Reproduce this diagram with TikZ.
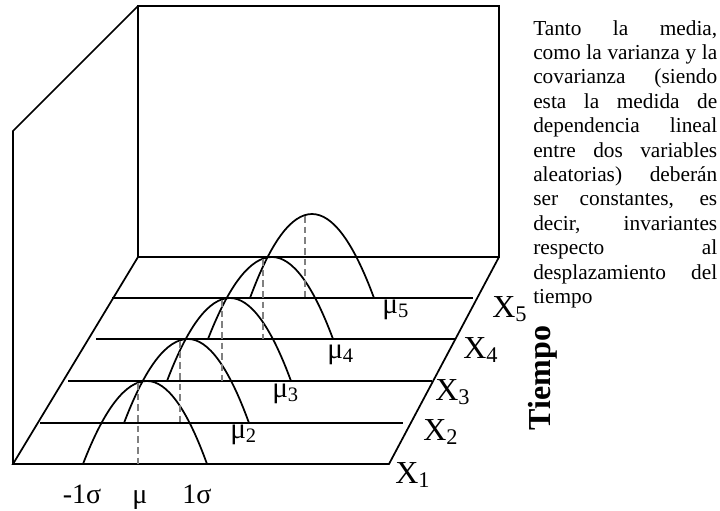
\documentclass[tikz,border=0pt]{standalone}
\usepackage{fontspec}
\setmainfont{Liberation Serif}
\begin{document}
\begin{tikzpicture}[x=0.75pt,y=-0.75pt,
    wall/.style={line width=1.3pt},
    meanline/.style={line width=1.1pt,gray,dash pattern=on 5pt off 3pt},
    xlbl/.style={anchor=base west,inner sep=0pt,font=\fontsize{24}{28}\selectfont},
    mulbl/.style={anchor=base west,inner sep=0pt,font=\fontsize{22}{26}\selectfont},
    siglbl/.style={anchor=base,inner sep=0pt,font=\fontsize{21}{25}\selectfont}]
    \useasboundingbox (0,0) rectangle (720,510);
    % back wall and side wall
    \draw[wall] (138,6) rectangle (499,257);
    \draw[wall] (13,464) -- (13,131) -- (138,6);
    % floor
    \draw[wall] (138,257) -- (13,464) -- (389,464) -- (499,257);
    % time lines
    \draw[wall] (40,423) -- (403,423);
    \draw[wall] (68,381) -- (432,381);
    \draw[wall] (96,339) -- (456,339);
    \draw[wall] (112,298) -- (473,298);
    % the five bells
    \draw[wall] (83,464) .. controls (104.3,408.7) and (125.7,381) .. (147,381)
                         .. controls (167,381) and (187,408.7) .. (207,464);
    \draw[wall] (124,423) .. controls (145.3,367) and (166.7,339) .. (188,339)
                          .. controls (208.3,339) and (228.7,367) .. (249,423);
    \draw[wall] (167,381) .. controls (188,325.7) and (209,298) .. (230,298)
                          .. controls (250.3,298) and (270.7,325.7) .. (291,381);
    \draw[wall] (208,339) .. controls (229.3,284.3) and (250.7,257) .. (272,257)
                          .. controls (292.3,257) and (312.7,284.3) .. (333,339);
    \draw[wall] (250,298) .. controls (270.7,242) and (291.3,214) .. (312,214)
                          .. controls (332.7,214) and (353.3,242) .. (374,298);
    % means
    \draw[meanline] (138,383) -- (138,464);
    \draw[meanline] (180,341) -- (180,423);
    \draw[meanline] (222,300) -- (222,381);
    \draw[meanline] (263,259) -- (263,339);
    \draw[meanline] (305,216) -- (305,298);
    % labels
    \node[siglbl] (s1) at (82,503) {-1σ};
    \node[siglbl] (mu) at (140,503) {μ};
    \node[siglbl] (s2) at (197,503) {1σ};
    \node[mulbl] (m2) at (230,438) {μ\textsubscript{2}};
    \node[mulbl] (m3) at (272,397) {μ\textsubscript{3}};
    \node[mulbl] (m4) at (327,358) {μ\textsubscript{4}};
    \node[mulbl] (m5) at (382,313) {μ\textsubscript{5}};
    \node[xlbl] (x1) at (395,483) {X\textsubscript{1}};
    \node[xlbl] (x2) at (423,440) {X\textsubscript{2}};
    \node[xlbl] (x3) at (435,400) {X\textsubscript{3}};
    \node[xlbl] (x4) at (463,358) {X\textsubscript{4}};
    \node[xlbl] (x5) at (492,317) {X\textsubscript{5}};
    \node[rotate=90,anchor=base,inner sep=0pt,font=\bfseries\fontsize{24}{28}\selectfont] (tiempo) at (550,378) {Tiempo};
    \node[anchor=north west,inner sep=0pt,text width=138pt,align=justify,font=\fontsize{16}{18.3}\selectfont] (note) at (533,20)
      {Tanto la media,\linebreak como la varianza y la\linebreak covarianza (siendo\linebreak esta la medida de\linebreak
       dependencia lineal\linebreak entre dos variables\linebreak aleatorias) deberán\linebreak ser constantes, es\linebreak
       decir, invariantes\linebreak respecto al\linebreak desplazamiento del\linebreak tiempo};
\end{tikzpicture}
\end{document}
